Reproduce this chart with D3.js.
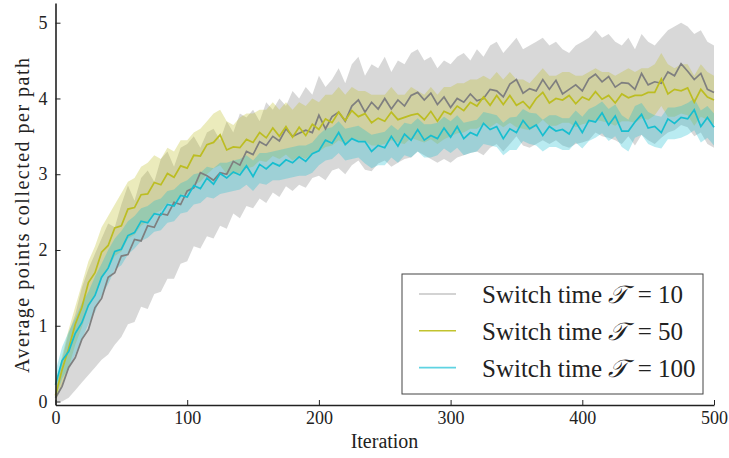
<!DOCTYPE html>
<html lang="en">
<head>
    <meta charset="UTF-8">
    <title>Average points collected per path</title>
    <script src="https://d3js.org/d3.v7.min.js"></script>
    <style>
        body {
            margin: 0;
            background: #fff;
        }
        svg {
            display: block;
            font-family: "Liberation Serif", "Times New Roman", serif;
        }
        .axis path, .axis line {
            stroke: #222;
        }
        .axis path {
            stroke-width: 1.6;
        }
        .axis line {
            stroke-width: 1;
        }
        .axis text {
            font-size: 18px;
            fill: #222;
        }
        .axis-label {
            font-size: 20px;
            fill: #222;
        }
        .legend-text {
            font-size: 25px;
            fill: #222;
        }
    </style>
</head>
<body>
    <div id="chart"></div>

    <script>
        // Iterations are sampled every 5 steps (0, 5, ..., 500)
        const step = 5;
        const serif = "'Liberation Serif', 'Times New Roman', serif";

        // Series labels (switch time)
        const seriesLabels = ["10", "50", "100"];

        // Tick labels
        const xTicks = [0, 100, 200, 300, 400, 500];
        const yTicks = [0, 1, 2, 3, 4, 5];

        // Switch time T = 10 (grey)
        const meanT10 = [
            0.05, 0.20, 0.45, 0.58, 0.82, 0.95, 1.24, 1.36, 1.64, 1.70,
            1.92, 1.94, 2.14, 2.12, 2.32, 2.30, 2.48, 2.46, 2.63, 2.60,
            2.78, 2.82, 3.02, 2.98, 2.92, 3.02, 3.00, 3.17, 3.12, 3.30,
            3.26, 3.43, 3.38, 3.50, 3.44, 3.60, 3.50, 3.54, 3.58, 3.55,
            3.78, 3.60, 3.76, 3.82, 3.70, 3.90, 3.98, 3.82, 3.95, 3.86,
            4.00, 3.86, 3.98, 3.90, 4.04, 4.08, 3.98, 4.07, 3.92, 4.02,
            3.88, 4.00, 3.95, 4.06, 3.97, 4.00, 4.12, 4.10, 4.02, 4.19,
            4.25, 4.07, 4.13, 4.10, 4.25, 4.12, 4.24, 4.06, 4.12, 4.18,
            4.10, 4.26, 4.32, 4.22, 4.29, 4.15, 4.21, 4.20, 4.12, 4.33,
            4.18, 4.22, 4.20, 4.35, 4.30, 4.46, 4.36, 4.25, 4.33, 4.12,
            4.08
        ];
        const upperT10 = [
            0.15, 0.55, 0.90, 1.15, 1.50, 1.75, 1.95, 2.15, 2.35, 2.30,
            2.60, 2.85, 2.65, 2.95, 3.05, 2.90, 3.20, 3.30, 3.10, 3.35,
            3.40, 3.50, 3.35, 3.55, 3.60, 3.45, 3.70, 3.55, 3.80, 3.75,
            3.85, 3.70, 3.95, 3.85, 4.00, 3.90, 4.10, 4.00, 4.15, 4.05,
            4.30, 4.15, 4.25, 4.40, 4.20, 4.45, 4.55, 4.30, 4.45, 4.40,
            4.55, 4.35, 4.50, 4.45, 4.60, 4.65, 4.50, 4.55, 4.40, 4.50,
            4.45, 4.55, 4.60, 4.50, 4.65, 4.55, 4.70, 4.75, 4.60, 4.70,
            4.80, 4.65, 4.70, 4.75, 4.80, 4.70, 4.75, 4.65, 4.60, 4.70,
            4.75, 4.80, 4.90, 4.80, 4.85, 4.75, 4.70, 4.80, 4.65, 4.85,
            4.75, 4.70, 4.80, 4.90, 4.95, 5.00, 4.95, 4.85, 4.90, 4.75,
            4.70
        ];
        const lowerT10 = [
            0.00, 0.00, 0.05, 0.15, 0.25, 0.35, 0.45, 0.55, 0.62, 0.75,
            0.85, 1.02, 1.05, 1.25, 1.22, 1.42, 1.45, 1.62, 1.62, 1.82,
            1.85, 2.05, 2.02, 2.18, 2.15, 2.32, 2.28, 2.48, 2.42, 2.58,
            2.55, 2.68, 2.62, 2.76, 2.70, 2.84, 2.78, 2.86, 2.82, 2.95,
            2.98, 2.92, 3.05, 3.08, 3.00, 3.12, 3.18, 3.06, 3.04, 3.14,
            3.18, 3.10, 3.15, 3.20, 3.22, 3.30, 3.25, 3.20, 3.15, 3.20,
            3.15, 3.22, 3.25, 3.28, 3.30, 3.25, 3.35, 3.40, 3.30, 3.40,
            3.50, 3.38, 3.35, 3.40, 3.45, 3.40, 3.45, 3.38, 3.35, 3.40,
            3.42, 3.45, 3.55, 3.50, 3.48, 3.45, 3.40, 3.50, 3.38, 3.52,
            3.45, 3.40, 3.48, 3.55, 3.58, 3.65, 3.62, 3.50, 3.55, 3.40,
            3.35
        ];

        // Switch time T = 50 (olive)
        const meanT50 = [
            0.08, 0.42, 0.70, 1.02, 1.24, 1.57, 1.70, 1.97, 2.06, 2.29,
            2.32, 2.54, 2.56, 2.73, 2.74, 2.89, 2.86, 3.01, 2.96, 3.11,
            3.08, 3.25, 3.24, 3.39, 3.42, 3.52, 3.32, 3.36, 3.35, 3.46,
            3.42, 3.55, 3.48, 3.61, 3.50, 3.63, 3.49, 3.62, 3.51, 3.66,
            3.59, 3.73, 3.68, 3.82, 3.71, 3.84, 3.76, 3.80, 3.68, 3.74,
            3.70, 3.82, 3.72, 3.75, 3.78, 3.80, 3.72, 3.83, 3.70, 3.83,
            3.79, 3.90, 3.84, 3.95, 3.90, 4.02, 3.91, 4.04, 3.92, 4.04,
            3.91, 3.96, 3.87, 4.00, 4.08, 3.94, 4.00, 3.98, 4.04, 3.93,
            4.02, 3.98, 4.09, 3.99, 4.04, 3.94, 4.06, 4.01, 4.04, 4.04,
            4.08, 4.08, 4.26, 4.06, 4.12, 4.10, 4.14, 3.95, 4.12, 4.02,
            3.98
        ];
        const upperT50 = [
            0.20, 0.60, 0.95, 1.25, 1.55, 1.85, 2.05, 2.30, 2.45, 2.60,
            2.75, 2.90, 2.95, 3.10, 3.15, 3.25, 3.20, 3.35, 3.30, 3.45,
            3.45, 3.55, 3.60, 3.70, 3.80, 3.85, 3.70, 3.65, 3.75, 3.80,
            3.80, 3.85, 3.85, 3.95, 3.85, 3.95, 3.85, 3.95, 3.90, 4.00,
            3.95, 4.05, 4.05, 4.15, 4.05, 4.15, 4.10, 4.10, 4.05, 4.05,
            4.05, 4.15, 4.05, 4.05, 4.15, 4.10, 4.05, 4.15, 4.05, 4.15,
            4.15, 4.20, 4.20, 4.25, 4.25, 4.30, 4.25, 4.35, 4.25, 4.35,
            4.25, 4.25, 4.20, 4.30, 4.40, 4.30, 4.30, 4.35, 4.35, 4.30,
            4.30, 4.35, 4.40, 4.35, 4.35, 4.30, 4.35, 4.40, 4.35, 4.40,
            4.40, 4.45, 4.60, 4.45, 4.40, 4.45, 4.45, 4.30, 4.45, 4.35,
            4.30
        ];
        const lowerT50 = [
            0.00, 0.20, 0.45, 0.75, 0.98, 1.25, 1.40, 1.62, 1.75, 1.92,
            1.98, 2.15, 2.20, 2.32, 2.38, 2.48, 2.52, 2.62, 2.62, 2.72,
            2.75, 2.86, 2.90, 3.00, 3.08, 3.12, 3.00, 3.00, 3.02, 3.08,
            3.10, 3.18, 3.16, 3.24, 3.20, 3.26, 3.18, 3.24, 3.20, 3.28,
            3.30, 3.36, 3.38, 3.45, 3.40, 3.48, 3.45, 3.44, 3.38, 3.38,
            3.40, 3.45, 3.42, 3.40, 3.48, 3.45, 3.42, 3.46, 3.40, 3.46,
            3.50, 3.54, 3.55, 3.60, 3.60, 3.66, 3.62, 3.68, 3.62, 3.68,
            3.62, 3.60, 3.58, 3.64, 3.72, 3.64, 3.64, 3.68, 3.68, 3.62,
            3.66, 3.68, 3.72, 3.70, 3.68, 3.64, 3.70, 3.70, 3.68, 3.74,
            3.72, 3.78, 3.90, 3.76, 3.76, 3.80, 3.78, 3.64, 3.76, 3.72,
            3.66
        ];

        // Switch time T = 100 (cyan)
        const meanT100 = [
            0.22, 0.54, 0.66, 0.90, 1.04, 1.27, 1.40, 1.64, 1.76, 1.98,
            2.01, 2.19, 2.23, 2.38, 2.36, 2.48, 2.46, 2.60, 2.58, 2.72,
            2.70, 2.85, 2.81, 2.95, 2.87, 3.01, 2.95, 3.03, 2.99, 3.11,
            2.97, 3.13, 3.07, 3.15, 3.11, 3.19, 3.15, 3.23, 3.17, 3.27,
            3.31, 3.45, 3.41, 3.55, 3.39, 3.47, 3.43, 3.43, 3.30, 3.38,
            3.35, 3.50, 3.37, 3.53, 3.45, 3.59, 3.45, 3.51, 3.47, 3.61,
            3.49, 3.63, 3.47, 3.55, 3.51, 3.67, 3.59, 3.63, 3.47, 3.60,
            3.55, 3.71, 3.60, 3.65, 3.51, 3.63, 3.57, 3.59, 3.53, 3.69,
            3.55, 3.71, 3.69, 3.81, 3.65, 3.77, 3.57, 3.57, 3.69, 3.79,
            3.61, 3.63, 3.55, 3.73, 3.67, 3.75, 3.73, 3.85, 3.63, 3.75,
            3.62
        ];
        const upperT100 = [
            0.40, 0.72, 0.92, 1.10, 1.30, 1.45, 1.65, 1.82, 2.00, 2.15,
            2.25, 2.38, 2.45, 2.55, 2.58, 2.65, 2.68, 2.78, 2.80, 2.88,
            2.92, 3.00, 3.02, 3.10, 3.08, 3.15, 3.15, 3.18, 3.20, 3.25,
            3.18, 3.28, 3.28, 3.30, 3.32, 3.34, 3.36, 3.38, 3.38, 3.42,
            3.52, 3.60, 3.62, 3.70, 3.60, 3.62, 3.64, 3.58, 3.52, 3.54,
            3.56, 3.65, 3.58, 3.68, 3.66, 3.74, 3.66, 3.66, 3.68, 3.76,
            3.70, 3.78, 3.68, 3.70, 3.72, 3.82, 3.80, 3.78, 3.68, 3.75,
            3.76, 3.86, 3.81, 3.80, 3.72, 3.78, 3.78, 3.74, 3.74, 3.84,
            3.76, 3.86, 3.90, 3.96, 3.86, 3.92, 3.78, 3.72, 3.90, 3.94,
            3.82, 3.78, 3.76, 3.88, 3.88, 3.90, 3.94, 4.00, 3.84, 3.90,
            3.80
        ];
        const lowerT100 = [
            0.05, 0.30, 0.45, 0.62, 0.82, 1.02, 1.18, 1.40, 1.55, 1.74,
            1.80, 1.94, 2.02, 2.12, 2.16, 2.24, 2.26, 2.36, 2.38, 2.48,
            2.50, 2.60, 2.62, 2.70, 2.68, 2.74, 2.76, 2.78, 2.80, 2.86,
            2.78, 2.88, 2.86, 2.92, 2.92, 2.94, 2.96, 2.98, 2.98, 3.02,
            3.12, 3.18, 3.20, 3.28, 3.18, 3.20, 3.22, 3.14, 3.08, 3.12,
            3.12, 3.22, 3.15, 3.25, 3.22, 3.30, 3.22, 3.22, 3.25, 3.34,
            3.28, 3.35, 3.25, 3.28, 3.30, 3.40, 3.38, 3.36, 3.25, 3.32,
            3.32, 3.44, 3.40, 3.38, 3.30, 3.36, 3.36, 3.32, 3.32, 3.42,
            3.34, 3.44, 3.48, 3.54, 3.44, 3.50, 3.36, 3.30, 3.48, 3.52,
            3.40, 3.36, 3.34, 3.46, 3.46, 3.48, 3.52, 3.58, 3.42, 3.48,
            3.38
        ];

        const colors = ["#7f7f7f", "#bcbd22", "#17becf"];
        const legendColors = ["#c4c4c4", "#c2c32e", "#5fd3e2"];

        const series = [
            {label: seriesLabels[0], mean: meanT10, upper: upperT10, lower: lowerT10},
            {label: seriesLabels[1], mean: meanT50, upper: upperT50, lower: lowerT50},
            {label: seriesLabels[2], mean: meanT100, upper: upperT100, lower: lowerT100}
        ];

        const width = 729, height = 458;

        const svg = d3.select("#chart")
            .append("svg")
                .attr("width", width)
                .attr("height", height);

        // Scales (axes span [0, 500] x [-0.046, 5.26])
        const xScale = d3.scaleLinear().domain([0, 500]).range([55.5, 714]);
        const yScale = d3.scaleLinear().domain([-0.046, 5.26]).range([405, 3]);

        const toPoints = s => s.mean.map((v, i) => ({
            x: i * step, y: v, lo: s.lower[i], hi: s.upper[i]
        }));

        const area = d3.area()
            .x(d => xScale(d.x))
            .y0(d => yScale(d.lo))
            .y1(d => yScale(d.hi));

        const line = d3.line()
            .x(d => xScale(d.x))
            .y(d => yScale(d.y));

        // Bands first, then the mean lines
        series.forEach((s, i) => {
            svg.append("path")
                .datum(toPoints(s))
                .attr("d", area)
                .attr("fill", colors[i])
                .attr("fill-opacity", 0.3)
                .attr("stroke", "none");
        });

        series.forEach((s, i) => {
            svg.append("path")
                .datum(toPoints(s))
                .attr("d", line)
                .attr("fill", "none")
                .attr("stroke", colors[i])
                .attr("stroke-width", 1.7);
        });

        // Axes with inward ticks (drop d3's default sans-serif font)
        svg.append("g")
            .attr("class", "axis")
            .attr("transform", "translate(0,405)")
            .call(d3.axisBottom(xScale)
                .tickValues(xTicks)
                .tickFormat(d3.format("d"))
                .tickSizeInner(-5)
                .tickSizeOuter(0)
                .tickPadding(6))
            .attr("font-family", serif)
            .attr("font-size", null);

        svg.append("g")
            .attr("class", "axis")
            .attr("transform", "translate(55.5,0)")
            .call(d3.axisLeft(yScale)
                .tickValues(yTicks)
                .tickFormat(d3.format("d"))
                .tickSizeInner(-5)
                .tickSizeOuter(0)
                .tickPadding(8))
            .attr("font-family", serif)
            .attr("font-size", null);

        // Axis labels
        svg.append("text")
            .attr("class", "axis-label")
            .attr("font-family", serif)
            .attr("x", 384.5)
            .attr("y", 448)
            .attr("text-anchor", "middle")
            .text("Iteration");

        svg.append("text")
            .attr("class", "axis-label")
            .attr("font-family", serif)
            .attr("transform", "translate(29,215.5) rotate(-90)")
            .attr("text-anchor", "middle")
            .attr("textLength", 315)
            .attr("lengthAdjust", "spacing")
            .text("Average points collected per path");

        // Legend
        const legend = svg.append("g").attr("transform", "translate(402,274)");

        legend.append("rect")
            .attr("width", 301)
            .attr("height", 120)
            .attr("fill", "#fff")
            .attr("stroke", "#444")
            .attr("stroke-width", 1);

        series.forEach((s, i) => {
            const cy = 20 + i * 36.8;
            legend.append("line")
                .attr("x1", 17).attr("x2", 54)
                .attr("y1", cy).attr("y2", cy)
                .attr("stroke", legendColors[i])
                .attr("stroke-width", 1.6);

            const t = legend.append("text")
                .attr("class", "legend-text")
                .attr("font-family", serif)
                .attr("x", 80)
                .attr("y", cy + 9);
            t.append("tspan").text("Switch time ");
            t.append("tspan")
                .style("font-style", "italic")
                .text("\u{1D4AF}");
            t.append("tspan")
                .attr("dx", 4)
                .text(" = " + s.label);
        });
    </script>
</body>
</html>
